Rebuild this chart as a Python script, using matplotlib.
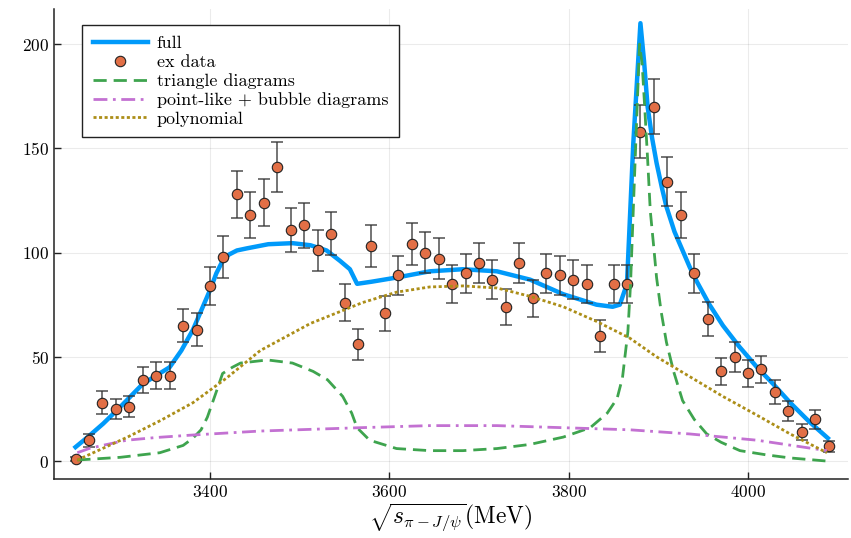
import numpy as np
import matplotlib
matplotlib.use("Agg")
import matplotlib.pyplot as plt

plt.rcParams['font.family'] = 'cmr10'
plt.rcParams['mathtext.fontset'] = 'cm'
plt.rcParams['axes.formatter.use_mathtext'] = True
plt.rcParams['axes.unicode_minus'] = False
plt.rcParams['lines.scale_dashes'] = False

# measured spectrum (MeV, events, error)
data_x = [3250, 3265, 3280, 3295, 3310, 3325, 3340, 3355, 3370, 3385,
          3400, 3415, 3430, 3445, 3460, 3475, 3490, 3505, 3520, 3535,
          3550, 3565, 3580, 3595, 3610, 3625, 3640, 3655, 3670, 3685,
          3700, 3715, 3730, 3745, 3760, 3775, 3790, 3805, 3820, 3835,
          3850, 3865, 3880, 3895, 3910, 3925, 3940, 3955, 3970, 3985,
          4000, 4015, 4030, 4045, 4060, 4075, 4090]
data_y = [1, 10, 28, 25, 26, 39, 41, 41, 65, 63,
          84, 98, 128, 118, 124, 141, 111, 113, 101, 109,
          76, 56, 103, 71, 89, 104, 100, 97, 85, 90,
          95, 87, 74, 95, 78, 90, 89, 87, 85, 60,
          85, 85, 158, 170, 134, 118, 90, 68, 43, 50,
          42, 44, 33, 24, 14, 20, 7]
data_err = [1, 3.2, 5.5, 5, 5, 6.2, 6.4, 6.4, 8, 8,
            9.2, 10, 11.3, 10.9, 11.1, 11.9, 10.5, 10.6, 10, 10.4,
            8.7, 7.5, 10.1, 8.4, 9.4, 10.2, 10, 9.8, 9.2, 9.5,
            9.7, 9.3, 8.6, 9.7, 8.8, 9.5, 9.4, 9.3, 9.2, 7.7,
            9.2, 9.2, 12.6, 13, 11.6, 10.9, 9.5, 8.2, 6.6, 7.1,
            6.5, 6.6, 5.7, 4.9, 3.7, 4.5, 2.6]

# full fit
full_x = [3250, 3265, 3281, 3300, 3325, 3340, 3355, 3368, 3381, 3391,
          3400, 3407, 3414, 3421, 3430, 3441, 3465, 3492, 3512, 3530,
          3545, 3556, 3564, 3580, 3608, 3645, 3682, 3720, 3757, 3794,
          3831, 3849, 3857, 3865, 3872, 3880, 3884, 3888, 3893, 3898,
          3904, 3909, 3918, 3927, 3935, 3943, 3957, 3972, 3990, 4010,
          4028, 4047, 4068, 4089]
full_y = [6.7, 12, 18, 26, 37, 41, 45, 53, 63, 73,
          82, 90, 96, 99, 101, 102, 104, 104.5, 103.5, 101,
          96, 92, 85, 86, 88, 91, 92, 91, 87, 80,
          75, 74, 75, 85, 152, 210, 192, 170, 155, 143,
          131, 122, 110, 101, 93, 86, 75, 65, 55, 45,
          37, 28, 19, 11]

# triangle diagrams
tri_x = [3252, 3300, 3344, 3370, 3381, 3390, 3397, 3406, 3414, 3425,
         3434, 3464, 3492, 3515, 3531, 3548, 3558, 3564, 3578, 3608,
         3645, 3682, 3720, 3757, 3794, 3824, 3843, 3854, 3860, 3866,
         3869, 3872, 3879, 3882, 3885, 3888, 3891, 3895, 3898, 3903,
         3909, 3917, 3927, 3940, 3954, 3970, 3991, 4020, 4047, 4088]
tri_y = [0.5, 1.8, 4, 7.5, 11, 15, 21, 32, 42, 45,
         47, 48.5, 47, 43, 39, 31, 23, 16, 10, 6,
         5, 5, 6, 8, 11.5, 16, 23, 30, 40, 62,
         85, 120, 200, 190, 168, 145, 120, 102, 88, 72,
         57, 43, 29, 20, 13, 9, 5, 3, 1.5, 0]

# point-like + bubble diagrams
pb_x = [3252, 3265, 3280, 3307, 3340, 3381, 3456, 3567, 3645, 3720,
        3794, 3868, 3935, 4010, 4088]
pb_y = [4, 6, 7.5, 10, 11.3, 12.5, 14.4, 16, 17, 17,
        16, 15, 13, 10, 5]

# polynomial background
poly_x = [3252, 3280, 3308, 3345, 3381, 3419, 3456, 3512, 3570, 3608,
          3645, 3682, 3720, 3757, 3794, 3831, 3868, 3898, 3935, 3972,
          4010, 4047, 4088]
poly_y = [0.5, 6, 11.5, 19.5, 28, 40, 53, 66, 76, 81,
          83.5, 84, 83, 79, 74, 67, 59, 50, 40.5, 31,
          22, 13, 4]

fig = plt.figure(figsize=(8.51, 5.38), dpi=100)
ax = fig.add_axes([54/851, 1 - 479/538, (848-54)/851, (479-9)/538])

ax.plot(full_x, full_y, color='#009AFA', lw=3.2, label='full', zorder=2)
ax.errorbar(data_x, data_y, yerr=data_err, fmt='none', ecolor='#333333',
            elinewidth=1.2, capsize=4, capthick=1.2, alpha=0.8, zorder=3)
ax.plot(data_x, data_y, 'o', color='#E26F46', markeredgecolor='#222222',
        markeredgewidth=0.8, markersize=7.5, label='ex data', zorder=3.5)
ax.plot(tri_x, tri_y, color='#3EA44E', lw=2.0, dashes=(9.5, 5),
        label='triangle diagrams', zorder=4)
ax.plot(pb_x, pb_y, color='#C371D2', lw=2.0, dashes=(10, 4, 2, 4),
        label='point-like + bubble diagrams', zorder=5)
ax.plot(poly_x, poly_y, color='#AC8E18', lw=2.0, dashes=(2.2, 1.8),
        label='polynomial', zorder=6)

ax.set_xlim(3226, 4111.5)
ax.set_ylim(-8.6, 216.8)
ax.set_xticks([3400, 3600, 3800, 4000])
ax.set_yticks([0, 50, 100, 150, 200])
ax.tick_params(direction='in', length=5, width=1, labelsize=12.5,
               color='#222222')
ax.grid(True, color='#000000', alpha=0.08, lw=0.8)
for side in ['top', 'right']:
    ax.spines[side].set_visible(False)
for side in ['left', 'bottom']:
    ax.spines[side].set_linewidth(1.1)
    ax.spines[side].set_color('#222222')

ax.set_xlabel(r'$\sqrt{s_{\pi - J/\psi}}$(MeV)', fontsize=17, labelpad=1)

leg = ax.legend(loc='upper left', bbox_to_anchor=(0.035, 0.966),
                borderaxespad=0, fontsize=13, handlelength=3.05,
                labelspacing=0.17, borderpad=0.6, handletextpad=0.5,
                frameon=True, fancybox=False, framealpha=1,
                edgecolor='#222222')
leg.get_frame().set_linewidth(1.0)

fig.savefig('out.png', dpi=100)
